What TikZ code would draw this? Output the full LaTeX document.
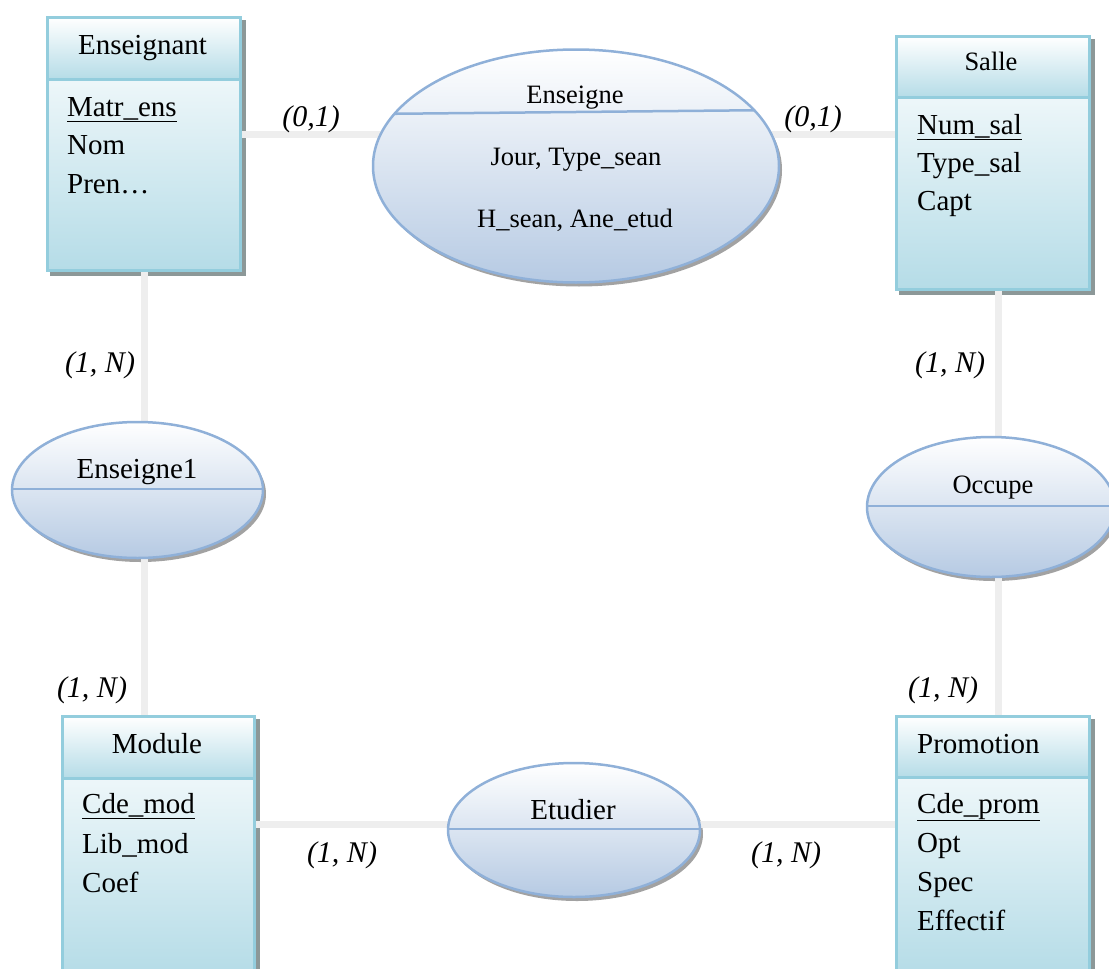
\documentclass[tikz,border=0pt]{standalone}
\usepackage{fontspec}
\setmainfont{Liberation Serif}
\usetikzlibrary{shapes.geometric,calc,backgrounds}

\definecolor{entline}{HTML}{93CDDD}
\definecolor{entfill}{HTML}{B5DCE7}
\definecolor{relline}{HTML}{8FB0D8}
\definecolor{relfill}{HTML}{B6CAE3}
\definecolor{linkgray}{HTML}{EEEEEE}
\definecolor{shadowgray}{HTML}{8C9898}
\definecolor{relshadow}{HTML}{A2A2A2}

\tikzset{
  link/.style={draw=linkgray, line width=7pt},
  entbox/.style={rectangle, draw=entline, line width=3pt, top color=white,
    bottom color=entfill, inner sep=0pt, anchor=north west},
  relation/.style={ellipse, draw=relline, line width=2.5pt, top color=white,
    bottom color=relfill, inner sep=0pt},
  divider/.style={draw=relline, line width=2.5pt},
  title/.style={font=\fontsize{29}{34}\selectfont, anchor=base, inner sep=0pt},
  smalltitle/.style={font=\fontsize{26.5}{30}\selectfont, anchor=base, inner sep=0pt},
  attr/.style={font=\fontsize{29}{34}\selectfont, anchor=base west, inner sep=0pt},
  card/.style={font=\fontsize{30}{34}\selectfont\itshape, anchor=base, inner sep=0pt},
}

\begin{document}
\begin{tikzpicture}[x=1pt, y=-1pt]
\useasboundingbox (0,0) rectangle (1109,969);

% ---------- entities ----------
\node[entbox, minimum width=193pt, minimum height=253pt] (ens) at (46,16) {};
\node[entbox, minimum width=193pt, minimum height=62pt] (ensh) at (46,16) {};
\node[entbox, minimum width=193pt, minimum height=253pt] (salle) at (895,35) {};
\node[entbox, minimum width=193pt, minimum height=61pt] (salleh) at (895,35) {};
\node[entbox, minimum width=192pt, minimum height=258pt] (mod) at (61,715) {};
\node[entbox, minimum width=192pt, minimum height=62pt] (modh) at (61,715) {};
\node[entbox, minimum width=193pt, minimum height=258pt] (prom) at (895,715) {};
\node[entbox, minimum width=193pt, minimum height=61pt] (promh) at (895,715) {};

% ---------- relations ----------
\node[relation, minimum width=406pt, minimum height=233pt] (enseigne) at (576,166) {};
\node[relation, minimum width=251pt, minimum height=136pt] (ens1) at (137.5,490) {};
\node[relation, minimum width=248pt, minimum height=140pt] (occupe) at (991,507) {};
\node[relation, minimum width=252pt, minimum height=134pt] (etudier) at (574,830) {};

% dividers of the relations, kept inside each ellipse
\begin{scope}
  \clip (enseigne.center) ellipse [x radius=203, y radius=116.5];
  \draw[divider] ($(enseigne.west)+(0,-52)$) -- ($(enseigne.east)+(0,-56)$);
\end{scope}
\begin{scope}
  \clip (ens1.center) ellipse [x radius=125.5, y radius=68];
  \draw[divider] ($(ens1.west)+(0,-1)$) -- ($(ens1.east)+(0,-1)$);
\end{scope}
\begin{scope}
  \clip (occupe.center) ellipse [x radius=124, y radius=70];
  \draw[divider] ($(occupe.west)+(0,-1)$) -- ($(occupe.east)+(0,-1)$);
\end{scope}
\begin{scope}
  \clip (etudier.center) ellipse [x radius=126, y radius=67];
  \draw[divider] ($(etudier.west)+(0,-1)$) -- ($(etudier.east)+(0,-1)$);
\end{scope}

% ---------- shadows and links ----------
\begin{scope}[on background layer]
  \foreach \b in {ens,salle,mod,prom}
    \fill[shadowgray] ($(\b.north west)+(4,4)$) rectangle ($(\b.south east)+(4,4)$);
  \fill[relshadow] ($(enseigne.center)+(3,4)$) ellipse [x radius=203, y radius=116.5];
  \fill[relshadow] ($(ens1.center)+(3,4)$) ellipse [x radius=125.5, y radius=68];
  \fill[relshadow] ($(occupe.center)+(3,4)$) ellipse [x radius=124, y radius=70];
  \fill[relshadow] ($(etudier.center)+(3,4)$) ellipse [x radius=126, y radius=67];

  \coordinate (ensport) at ($(ens.east)+(0,-9.5)$);
  \draw[link] (ensport) -- (ensport -| enseigne.center);
  \draw[link] (ensport -| enseigne.center) -- (ensport -| salle.west);

  \draw[link] (ens.south) -- (ens.south |- ens1.center);
  \draw[link] (ens.south |- ens1.center) -- (ens.south |- mod.north);

  \coordinate (salleport) at ($(salle.south)+(5,0)$);
  \draw[link] (salleport) -- (salleport |- occupe.center);
  \draw[link] (salleport |- occupe.center) -- (salleport |- prom.north);

  \coordinate (modport) at ($(mod.east)+(0,-21)$);
  \draw[link] (modport) -- (modport -| etudier.center);
  \draw[link] (modport -| etudier.center) -- (modport -| prom.west);
\end{scope}

% ---------- entity texts ----------
\node[title] (ens-t) at (142.5,54) {Enseignant};
\node[attr] (ens-a1) at (67,116) {\underline{Matr\_ens}};
\node[attr] (ens-a2) at (67,154) {Nom};
\node[attr] (ens-a3) at (67,193) {Pren…};

\node[smalltitle] (salle-t) at (991,70) {Salle};
\node[attr] (salle-a1) at (917,134) {\underline{Num\_sal}};
\node[attr] (salle-a2) at (917,172) {Type\_sal};
\node[attr] (salle-a3) at (917,210) {Capt};

\node[title] (mod-t) at (157,753) {Module};
\node[attr] (mod-a1) at (82,813) {\underline{Cde\_mod}};
\node[attr] (mod-a2) at (82,853) {Lib\_mod};
\node[attr] (mod-a3) at (82,892) {Coef};

\node[attr] (prom-t) at (917,753) {Promotion};
\node[attr] (prom-a1) at (917,813) {\underline{Cde\_prom}};
\node[attr] (prom-a2) at (917,852) {Opt};
\node[attr] (prom-a3) at (917,891) {Spec};
\node[attr] (prom-a4) at (917,930) {Effectif};

% ---------- relation texts ----------
\node[smalltitle] (enseigne-t) at (575,103) {Enseigne};
\node[smalltitle] (enseigne-a1) at (576,165) {Jour, Type\_sean};
\node[smalltitle] (enseigne-a2) at (575,227) {H\_sean, Ane\_etud};
\node[title] (ens1-t) at (137,478) {Enseigne1};
\node[smalltitle] (occupe-t) at (993,493) {Occupe};
\node[title] (etudier-t) at (573,819) {Etudier};

% ---------- cardinalities ----------
\node[card] (c1) at (311,126) {(0,1)};
\node[card] (c2) at (813,126) {(0,1)};
\node[card] (c3) at (100,372) {(1, N)};
\node[card] (c4) at (950,372) {(1, N)};
\node[card] (c5) at (92,697) {(1, N)};
\node[card] (c6) at (943,697) {(1, N)};
\node[card] (c7) at (342,862) {(1, N)};
\node[card] (c8) at (786,862) {(1, N)};
\end{tikzpicture}
\end{document}
